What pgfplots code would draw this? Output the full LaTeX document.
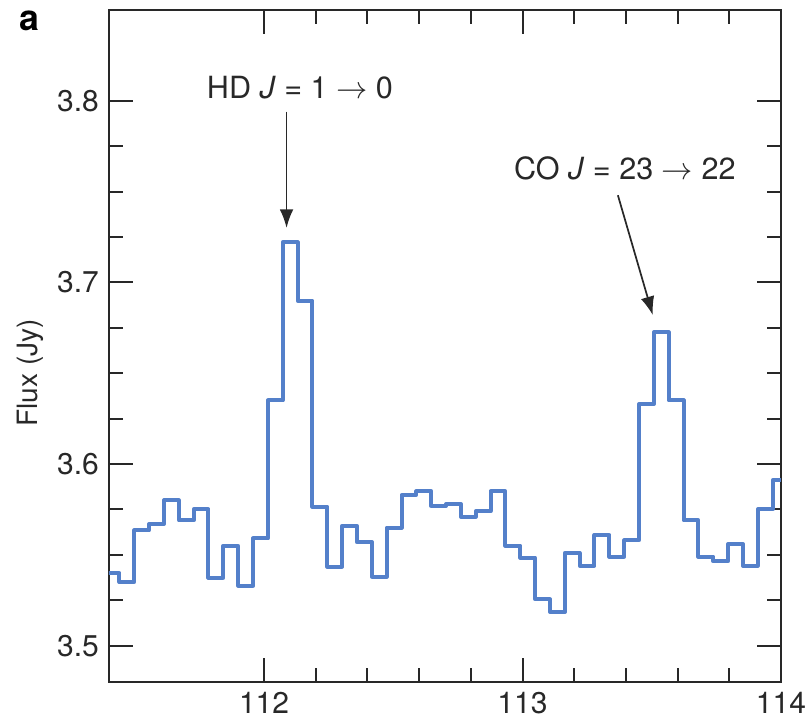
\documentclass[border=0pt]{standalone}
\usepackage{fontspec}
\setmainfont{TeX Gyre Heros}
\usepackage{pgfplots}
\pgfplotsset{compat=1.18}
\usetikzlibrary{arrows.meta}

\definecolor{specblue}{RGB}{84,128,202}
\definecolor{axisgray}{RGB}{40,40,40}

\begin{document}
\begin{tikzpicture}
\begin{axis}[
  width=235.2pt, height=235.2pt, scale only axis,
  xmin=111.4, xmax=114, ymin=3.48, ymax=3.85,
  xtick={112,113,114}, minor x tick num=4,
  ytick={3.5,3.6,3.7,3.8}, minor y tick num=3,
  tick align=inside,
  major tick length=8.5pt, minor tick length=4.8pt,
  every tick/.style={axisgray, line width=0.7pt},
  axis line style={axisgray, line width=0.8pt},
  scaled ticks=false,
  /pgf/number format/assume math mode=true,
  y tick label style={/pgf/number format/.cd, fixed, fixed zerofill, precision=1, /tikz/.cd},
  x tick label style={/pgf/number format/.cd, fixed, precision=0, 1000 sep={}, /tikz/.cd},
  tick label style={font=\fontsize{10.5}{12}\selectfont, text=axisgray},
]
% binned spectrum, one value per channel (left channel edge, flux)
\addplot[const plot, specblue, line width=1.4pt, line join=round] coordinates {
  (111.3830,3.540) (111.4404,3.535) (111.4978,3.5635) (111.5553,3.567)
  (111.6127,3.580) (111.6702,3.569) (111.7276,3.575) (111.7850,3.5375)
  (111.8425,3.555) (111.8999,3.533) (111.9574,3.559) (112.0148,3.635)
  (112.0722,3.722) (112.1297,3.690) (112.1871,3.5765) (112.2446,3.5435)
  (112.3020,3.566) (112.3594,3.557) (112.4169,3.538) (112.4743,3.565)
  (112.5318,3.583) (112.5892,3.585) (112.6466,3.577) (112.7041,3.578)
  (112.7615,3.571) (112.8190,3.574) (112.8764,3.585) (112.9338,3.555)
  (112.9913,3.5485) (113.0487,3.5255) (113.1062,3.5185) (113.1636,3.551)
  (113.2210,3.544) (113.2785,3.561) (113.3359,3.549) (113.3934,3.558)
  (113.4508,3.633) (113.5082,3.6725) (113.5657,3.635) (113.6231,3.569)
  (113.6806,3.549) (113.7380,3.5465) (113.7954,3.556) (113.8529,3.544)
  (113.9103,3.575) (113.9678,3.591) (114.0252,3.591)
};
\coordinate (hdtail) at (axis cs:112.087,3.794);
\coordinate (hdtip)  at (axis cs:112.087,3.730);
\coordinate (hdtext) at (axis cs:112.139,3.807);
\coordinate (cotail) at (axis cs:113.369,3.748);
\coordinate (cotip)  at (axis cs:113.504,3.682);
\coordinate (cotext) at (axis cs:113.396,3.763);
\coordinate (ylab)   at (rel axis cs:-0.1176,0.46);
\coordinate (panel)  at (rel axis cs:-0.118,0.984);
\coordinate (bbLL)   at (rel axis cs:-0.1622,-0.0506);
\coordinate (bbUR)   at (rel axis cs:1.0417,1.0149);
\end{axis}

% line identifications
\draw[-{Latex[length=6.5pt,width=4.8pt]}, line width=0.6pt, axisgray] (hdtail) -- (hdtip);
\node[font=\fontsize{10.7}{12}\selectfont, text=axisgray] at (hdtext) {HD \textit{J} = 1 $\rightarrow$ 0};
\draw[-{Latex[length=6.5pt,width=4.8pt]}, line width=0.6pt, axisgray] (cotail) -- (cotip);
\node[font=\fontsize{10.7}{12}\selectfont, text=axisgray] at (cotext) {CO \textit{J} = 23 $\rightarrow$ 22};

% axis title and panel letter
\node[rotate=90, font=\fontsize{9.8}{11}\selectfont, text=axisgray] at (ylab) {Flux (Jy)};
\node[font=\fontsize{12.5}{14}\selectfont\bfseries] at (panel) {a};

\pgfresetboundingbox
\path[use as bounding box] (bbLL) rectangle (bbUR);
\end{tikzpicture}
\end{document}
